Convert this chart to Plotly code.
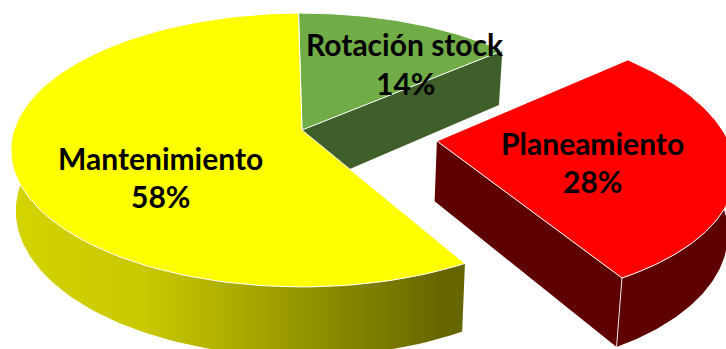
import numpy as np
import plotly.graph_objects as go

# Pie data, clockwise from the first slice
categories = ["Rotación stock", "Planeamiento", "Mantenimiento"]
shares = [14, 28, 58]

# Projection of the tilted pie onto the page
APEX_X, APEX_Y = 302.0, 130.0
RADIUS_X, RADIUS_Y = 288.0, 134.0
PERSPECTIVE = 0.146
THICKNESS = 59.5
BASE_SHRINK = 0.983
START_ANGLE = -0.8
EXPLODE = {"Planeamiento": 0.47}


def project(wx, wy, lower=False):
    """Map pie-plane coordinates to page pixels, optionally on the base plane."""
    denom = 1 + PERSPECTIVE * wy
    x = RADIUS_X * wx / denom
    y = APEX_Y - RADIUS_Y * wy / denom
    if lower:
        x = x * BASE_SHRINK
        y = y + THICKNESS / denom
    return APEX_X + x, y


def slice_bounds():
    edges = START_ANGLE + np.cumsum([0] + shares) / sum(shares) * 360.0
    return {c: (edges[i], edges[i + 1]) for i, c in enumerate(categories)}


def offset(name, bounds):
    amount = EXPLODE.get(name, 0.0)
    mid = np.radians(sum(bounds[name]) / 2)
    return amount * np.sin(mid), amount * np.cos(mid)


def rim(name, bounds, a0, a1, lower=False):
    ox, oy = offset(name, bounds)
    t = np.radians(np.linspace(a0, a1, 120))
    return project(ox + np.sin(t), oy + np.cos(t), lower)


def hub(name, bounds, lower=False):
    ox, oy = offset(name, bounds)
    return project(np.array([ox]), np.array([oy]), lower)


def band(upper, lower_edge):
    return (np.concatenate([upper[0], lower_edge[0][::-1]]),
            np.concatenate([upper[1], lower_edge[1][::-1]]))


def polygon(fig, xy, color=None, outline=None, gradient=None):
    fig.add_trace(go.Scatter(
        x=np.append(xy[0], xy[0][0]), y=np.append(xy[1], xy[1][0]),
        mode="lines", fill="toself",
        fillcolor=color,
        fillgradient=gradient,
        line=dict(color=outline or "rgba(0,0,0,0)", width=1 if outline else 0),
        hoverinfo="skip", showlegend=False,
    ))


def top_face(name, bounds):
    a0, a1 = bounds[name]
    hx, hy = hub(name, bounds)
    rx, ry = rim(name, bounds, a0, a1)
    return np.concatenate([hx, rx]), np.concatenate([hy, ry])


bounds = slice_bounds()
fig = go.Figure()

# Rotación stock: cut face, then top
a0, a1 = bounds["Rotación stock"]
hub_up = hub("Rotación stock", bounds)
hub_lo = hub("Rotación stock", bounds, True)
end_up = rim("Rotación stock", bounds, a1, a1)
end_lo = rim("Rotación stock", bounds, a1, a1, True)
polygon(fig, (np.array([hub_up[0][0], end_up[0][0], end_lo[0][0], hub_lo[0][0]]),
              np.array([hub_up[1][0], end_up[1][0], end_lo[1][0], hub_lo[1][0]])),
        color="#3F5F2A")
polygon(fig, top_face("Rotación stock", bounds), color="#70AD47", outline="#FFFFFF")

# Mantenimiento: shaded wall, then top
a0, a1 = bounds["Mantenimiento"]
wall = band(rim("Mantenimiento", bounds, a0, 300), rim("Mantenimiento", bounds, a0, 300, True))
polygon(fig, wall, gradient=dict(
    type="horizontal", start=10, stop=465,
    colorscale=[[0, "#D4D400"], [0.3, "#C8C800"], [0.5, "#ABAB00"],
                [0.7, "#8C8C00"], [0.95, "#666600"], [1, "#666600"]]))
polygon(fig, top_face("Mantenimiento", bounds), color="#FFFF00", outline="#FFFFFF")

# Planeamiento: cut face, outer wall, top
a0, a1 = bounds["Planeamiento"]
hub_up = hub("Planeamiento", bounds)
hub_lo = hub("Planeamiento", bounds, True)
end_up = rim("Planeamiento", bounds, a1, a1)
end_lo = rim("Planeamiento", bounds, a1, a1, True)
polygon(fig, (np.array([hub_up[0][0], end_up[0][0], end_lo[0][0], hub_lo[0][0]]),
              np.array([hub_up[1][0], end_up[1][0], end_lo[1][0], hub_lo[1][0]])),
        color="#5F0000")
polygon(fig, band(rim("Planeamiento", bounds, 80, a1), rim("Planeamiento", bounds, 80, a1, True)),
        color="#5F0000")
fig.add_trace(go.Scatter(
    x=[end_up[0][0], end_lo[0][0]], y=[end_up[1][0], end_lo[1][0]],
    mode="lines", line=dict(color="#E8E0E0", width=1), hoverinfo="skip", showlegend=False,
))
polygon(fig, top_face("Planeamiento", bounds), color="#FF0000", outline="#FFFFFF")

# Slice labels: name above percentage
label_anchor = {
    "Rotación stock": (405, 44, 83),
    "Planeamiento": (592, 143, 181),
    "Mantenimiento": (160, 158, 196),
}
for name, share in zip(categories, shares):
    lx, name_y, pct_y = label_anchor[name]
    for text, ly in ((name, name_y), (f"{share}%", pct_y)):
        fig.add_annotation(
            x=lx, y=ly, xref="x", yref="y", text=f"<b>{text}</b>", showarrow=False,
            font=dict(family="Lato", size=30, color="#000000"),
            xanchor="center", yanchor="middle",
        )

fig.update_layout(
    width=726, height=349,
    margin=dict(l=0, r=0, t=0, b=0),
    paper_bgcolor="#FFFFFF", plot_bgcolor="#FFFFFF",
    xaxis=dict(range=[0, 726], visible=False),
    yaxis=dict(range=[349, 0], visible=False),
)
fig.write_html("out.html")
